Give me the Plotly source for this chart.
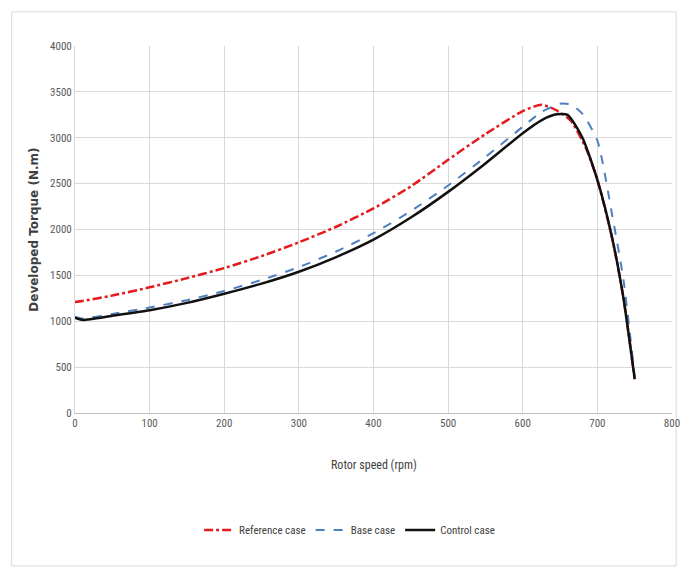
import plotly.graph_objects as go

# Reference case
ref_speed = [0, 10, 50, 100, 150, 200, 250, 300, 350, 400, 450, 500, 550, 600, 625, 645, 665, 685, 700, 720, 735, 750]
ref_torque = [1210, 1220, 1280, 1370, 1470, 1580, 1710, 1860, 2030, 2230, 2470, 2760, 3040, 3290, 3360, 3300, 3180, 2880, 2540, 1900, 1250, 370]

# Base case
base_speed = [0, 10, 50, 100, 150, 200, 250, 300, 350, 400, 450, 500, 550, 600, 625, 650, 665, 680, 700, 720, 735, 750]
base_torque = [1050, 1030, 1080, 1150, 1230, 1330, 1450, 1590, 1760, 1960, 2200, 2480, 2790, 3120, 3280, 3370, 3360, 3260, 2970, 2150, 1450, 400]

# Control case
ctrl_speed = [0, 10, 50, 100, 150, 200, 250, 300, 350, 400, 450, 500, 550, 600, 625, 645, 660, 680, 700, 720, 735, 750]
ctrl_torque = [1040, 1015, 1060, 1120, 1200, 1300, 1410, 1540, 1700, 1890, 2130, 2410, 2720, 3050, 3190, 3255, 3250, 3000, 2540, 1900, 1250, 370]

x_ticks = [0, 100, 200, 300, 400, 500, 600, 700, 800]
y_ticks = [0, 500, 1000, 1500, 2000, 2500, 3000, 3500, 4000]

FONT = "Liberation Sans Narrow, Arial Narrow, Roboto Condensed, sans-serif"

fig = go.Figure()
fig.add_trace(go.Scatter(x=ref_speed, y=ref_torque, mode="lines", name="Reference case",
                         line=dict(color="#e41a1c", width=2.5, dash="dashdot", shape="spline", smoothing=0.6)))
fig.add_trace(go.Scatter(x=base_speed, y=base_torque, mode="lines", name="Base case",
                         line=dict(color="#4f7fc0", width=2, dash="dash", shape="spline", smoothing=0.6)))
fig.add_trace(go.Scatter(x=ctrl_speed, y=ctrl_torque, mode="lines", name="Control case",
                         line=dict(color="#111111", width=2.5, shape="spline", smoothing=0.6)))

fig.update_layout(
    width=681, height=560,
    margin=dict(l=67, r=9, t=38, b=155),
    paper_bgcolor="white", plot_bgcolor="white",
    font=dict(family=FONT, size=11, color="#595959"),
    showlegend=True,
    legend=dict(orientation="h", x=0.46, xanchor="center", y=-0.319, yanchor="middle",
                font=dict(family=FONT, size=11, color="#404040"), itemwidth=30),
    xaxis=dict(range=[0, 800], tickvals=x_ticks, showgrid=True, gridcolor="#d9d9d9", gridwidth=1,
               zeroline=False, showline=True, linecolor="#bfbfbf", mirror=False, ticks="",
               tickfont=dict(family=FONT, size=11, color="#595959")),
    yaxis=dict(range=[0, 4000], tickvals=y_ticks, showgrid=True, gridcolor="#d9d9d9", gridwidth=1,
               zeroline=False, showline=True, linecolor="#d9d9d9", ticks="",
               tickfont=dict(family=FONT, size=11, color="#595959")),
    annotations=[
        dict(text="Rotor speed (rpm)", xref="paper", yref="paper", x=0.5, y=-0.142,
             xanchor="center", yanchor="middle", showarrow=False,
             font=dict(family=FONT, size=12, color="#404040")),
        dict(text="<b>Developed Torque (N.m)</b>", xref="paper", yref="paper", x=-0.07, y=0.5,
             xanchor="center", yanchor="middle", showarrow=False, textangle=-90,
             font=dict(family="DejaVu Sans, sans-serif", size=12, color="#404040")),
    ],
    shapes=[
        dict(type="rect", xref="paper", yref="paper", x0=-0.106, x1=1.007, y0=-0.417, y1=1.093,
             line=dict(color="#d9d9d9", width=1), fillcolor="rgba(0,0,0,0)", layer="below"),
    ],
)

fig.write_html("out.html")
